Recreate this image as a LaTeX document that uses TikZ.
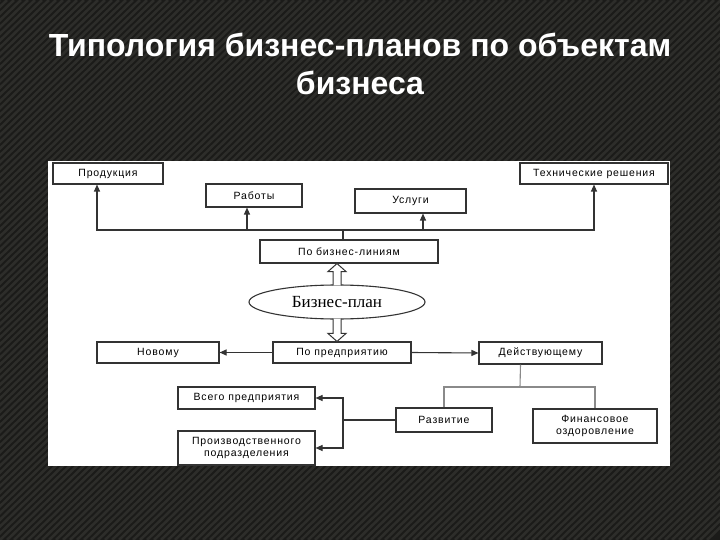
\documentclass[tikz,border=0pt]{standalone}
\usepackage{fontspec}
\setmainfont{Liberation Sans}
\newfontfamily\boxfont[LetterSpace=8]{Liberation Sans}
\newfontfamily\planfont{Liberation Serif}
\usetikzlibrary{arrows.meta, calc, shapes.geometric}
\definecolor{slidebg}{HTML}{1B1B19}
\definecolor{stripe}{HTML}{2D2D2A}
\definecolor{boxline}{HTML}{333333}
\definecolor{treeline}{HTML}{8A8A8A}

\begin{document}
\begin{tikzpicture}[x=1pt, y=-1pt,
    every node/.style={font=\boxfont\fontsize{10.5}{12}\selectfont},
    box/.style={rectangle, draw=boxline, line width=1.1pt, fill=white, align=center, inner sep=1pt},
    plan/.style={ellipse, draw=boxline, line width=1.1pt, fill=white, font=\planfont\fontsize{17}{20}\selectfont, inner sep=0pt},
    arrow/.style={-{Triangle[length=7pt,width=6pt]}, line width=1.1pt, color=boxline},
    link/.style={line width=1.1pt, color=boxline},
    tree/.style={line width=1.1pt, color=treeline},
    hollow/.style={draw=boxline, line width=1pt, fill=white},
    title/.style={font=\fontsize{32}{38}\selectfont\bfseries, text=white, anchor=base}
]
\useasboundingbox (0,0) rectangle (720,540);

% --- slide background ---
\fill[slidebg] (0,0) rectangle (720,540);
\begin{scope}
    \clip (0,0) rectangle (720,540);
    \foreach \s in {0,7,...,1267}
        \draw[stripe, line width=2.6pt] (\s-560,540) -- (\s,0);
\end{scope}

% --- title ---
\node[title] (title1) at (360,57) {Типология бизнес-планов по объектам};
\node[title] (title2) at (360,95) {бизнеса};

% --- white panel ---
\fill[white] (48,161) rectangle (670,466);

% --- upper level ---
\node[box, minimum width=110pt, minimum height=21pt] (prod) at (108,173.5) {Продукция};
\node[box, minimum width=96pt, minimum height=23pt] (works) at (254,195.5) {Работы};
\node[box, minimum width=111pt, minimum height=24pt] (serv) at (410.5,201) {Услуги};
\node[box, minimum width=148pt, minimum height=21pt] (tech) at (594,173.5) {Технические решения};
\node[box, minimum width=178pt, minimum height=23pt] (lines) at (349,251.5) {По бизнес-линиям};

% --- centre ---
\node[plan, minimum width=176pt, minimum height=34pt] (bplan) at (337,302) {Бизнес-план};

% --- lower level ---
\node[box, minimum width=138pt, minimum height=21pt] (firm) at (342,352.5) {По предприятию};
\node[box, minimum width=122pt, minimum height=21pt] (newf) at (158,352.5) {Новому};
\node[box, minimum width=123pt, minimum height=22pt] (exist) at (540.5,353) {Действующему};
\node[box, minimum width=96pt, minimum height=24pt] (devel) at (444,420) {Развитие};
\node[box, minimum width=124pt, minimum height=34pt, align=center] (finance) at (595,426) {Финансовое\\оздоровление};
\node[box, minimum width=137pt, minimum height=22pt] (whole) at (246.5,398) {Всего предприятия};
\node[box, minimum width=137pt, minimum height=34pt, align=center] (unit) at (246.5,448) {Производственного\\подразделения};

% --- business lines ---
\coordinate (hub) at (343,230);
\draw[link] (hub) -- (hub |- lines.north);
\draw[arrow] (hub) -| ([xshift=-11pt]prod.south);
\draw[arrow] (hub) -| (tech.south);
\draw[arrow] ([xshift=-7pt]works.south |- hub) -- ([xshift=-7pt]works.south);
\draw[arrow] ([xshift=12.5pt]serv.south |- hub) -- ([xshift=12.5pt]serv.south);

% --- hollow arrows from the plan ---
\coordinate (tipup) at (bplan.north |- lines.south);
\filldraw[hollow] ($(bplan.north)+(-4,1)$) -- ($(tipup)+(-4,8)$) -- ($(tipup)+(-9,8)$) -- (tipup)
    -- ($(tipup)+(9,8)$) -- ($(tipup)+(4,8)$) -- ($(bplan.north)+(4,1)$);
\coordinate (tipdown) at (bplan.south |- firm.north);
\filldraw[hollow] ($(bplan.south)+(-4,-1)$) -- ($(tipdown)+(-4,-8)$) -- ($(tipdown)+(-9,-8)$) -- (tipdown)
    -- ($(tipdown)+(9,-8)$) -- ($(tipdown)+(4,-8)$) -- ($(bplan.south)+(4,-1)$);

% --- by enterprise ---
\draw[arrow] (firm.west) -- (newf.east);
\draw[arrow] (firm.east) -- (exist.west);

\coordinate (split) at (520,387);
\draw[tree] ([xshift=-20pt]exist.south) -- (split);
\draw[tree] (devel.north) |- (split) -| (finance.north);

\coordinate (fork) at (343,420);
\draw[link] (devel.west) -- (fork);
\draw[arrow] (fork) |- (whole.east);
\draw[arrow] (fork) |- (unit.east);
\end{tikzpicture}
\end{document}
